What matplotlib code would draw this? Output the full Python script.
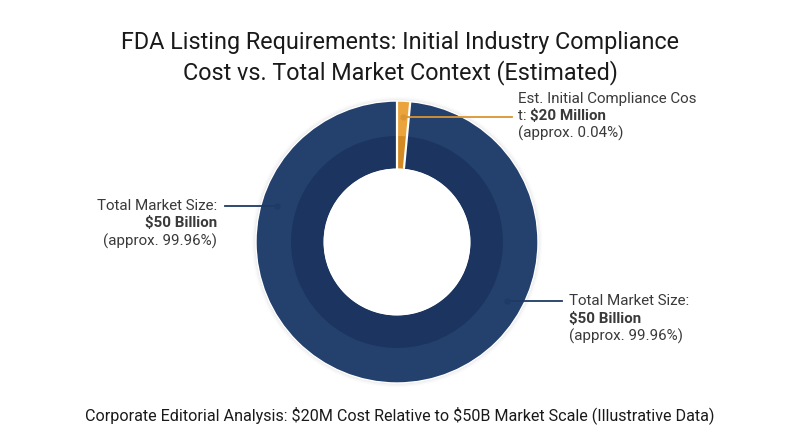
import numpy as np
from matplotlib import pyplot as plt
from matplotlib.patches import Circle

plt.rcParams['font.family'] = ['Roboto', 'DejaVu Sans']

# data (billions of USD)
categories = ['Est. Initial Compliance Cost', 'Total Market Size']
values = [0.02, 50.0]
value_labels = ['$20 Million', '$50 Billion']
min_share = 0.015  # smallest slice drawn so it stays visible

outer_colors = ['#eba43c', '#24416e']
inner_colors = ['#d38a22', '#1c3560']
line_colors = ['#d9952f', '#1f3a64']
text_color = '#3a3a3a'

total = sum(values)
pct = [v / total * 100 for v in values]
shown = [max(v / total, min_share) for v in values]
shown[1] = 1 - shown[0]

# 1 data unit = 141 px, centre of donut at (397, 242) px
W, H, R, CX, CY = 800, 447, 141.0, 397, 242
fig = plt.figure(figsize=(8, 4.47), dpi=100)
ax = fig.add_axes([0, 0, 1, 1])
ax.axis('off')


def px(x, y):
    return (x - CX) / R, (CY - y) / R


# soft shadow
for i, a in enumerate([0.035, 0.025, 0.015]):
    ax.add_patch(Circle((0, 0), 1.0 + 0.01 * (i + 1), color='#000000', alpha=a, lw=0, zorder=0))

hole = 73.5 / R
wedges, _ = ax.pie(shown, radius=1.0, colors=outer_colors, startangle=90, counterclock=False,
                   wedgeprops=dict(width=1.0 - hole, linewidth=0))
ax.pie(shown, radius=106 / R, colors=inner_colors, startangle=90, counterclock=False,
       wedgeprops=dict(width=106 / R - hole, linewidth=0))
ax.add_patch(Circle((0, 0), hole, color='white', lw=0, zorder=5))
ax.add_patch(Circle((0, 0), 1.0, fill=False, edgecolor='white', lw=1.0, zorder=5))
# white separators between slices
for w in wedges:
    a = np.deg2rad(w.theta1)
    ax.plot([hole * np.cos(a), np.cos(a)], [hole * np.sin(a), np.sin(a)],
            color='white', lw=1.6, zorder=5, solid_capstyle='butt')
ax.set_xlim(-CX / R, (W - CX) / R)
ax.set_ylim(-(H - CY) / R, CY / R)
ax.set_aspect('equal')

fs = 10.9
rd = 125 / R

# compliance cost label (anchored at slice centre)
w = wedges[0]
ang = np.deg2rad((w.theta1 + w.theta2) / 2)
dx, dy = rd * np.cos(ang), rd * np.sin(ang)
ex, _ = px(512, 0)
ax.plot([dx, ex], [dy, dy], color=line_colors[0], lw=1.3, zorder=6)
ax.plot(dx, dy, 'o', ms=3.5, color=line_colors[0], zorder=7)
tx, _ = px(518, 0)
ax.text(tx, px(0, 99)[1], 'Est. Initial Compliance Cos', fontsize=fs, color=text_color,
        ha='left', va='center', parse_math=False)
t1 = ax.text(tx, px(0, 116)[1], 't: ', fontsize=fs, color=text_color, ha='left', va='center',
             parse_math=False)
ax.annotate(value_labels[0], xy=(1, 0), xycoords=t1, ha='left', va='bottom', fontsize=fs,
            fontweight='bold', color=text_color, annotation_clip=False)
ax.text(tx, px(0, 133)[1], '(approx. %.2f%%)' % pct[0], fontsize=fs, color=text_color,
        ha='left', va='center', parse_math=False)

# market size labels, left and right
for ang_deg, x_end, x_txt, ha in [(163.2, 225, 217, 'right'), (-28.4, 562, 569, 'left')]:
    a = np.deg2rad(ang_deg)
    dx, dy = rd * np.cos(a), rd * np.sin(a)
    ex, _ = px(x_end, 0)
    ax.plot([dx, ex], [dy, dy], color=line_colors[1], lw=1.3, zorder=6)
    ax.plot(dx, dy, 'o', ms=3.5, color=line_colors[1], zorder=7)
    tx, _ = px(x_txt, 0)
    ax.text(tx, dy, 'Total Market Size:', fontsize=fs, color=text_color, ha=ha, va='center')
    ax.text(tx, dy - 17.5 / R, value_labels[1], fontsize=fs, color=text_color, ha=ha,
            va='center', fontweight='bold', parse_math=False)
    ax.text(tx, dy - 35 / R, '(approx. %.2f%%)' % pct[1], fontsize=fs, color=text_color,
            ha=ha, va='center')

fig.text(0.5, 1 - 43 / H, 'FDA Listing Requirements: Initial Industry Compliance', ha='center',
         va='center', fontsize=16.8, color='#1a1a1a')
fig.text(0.5, 1 - 73 / H, 'Cost vs. Total Market Context (Estimated)', ha='center',
         va='center', fontsize=16.8, color='#1a1a1a')
fig.text(0.5, 1 - 415 / H,
         'Corporate Editorial Analysis: $20M Cost Relative to $50B Market Scale (Illustrative Data)',
         ha='center', va='center', fontsize=11.6, color='#1a1a1a', parse_math=False)

fig.savefig('out.png', dpi=100, facecolor='white')
